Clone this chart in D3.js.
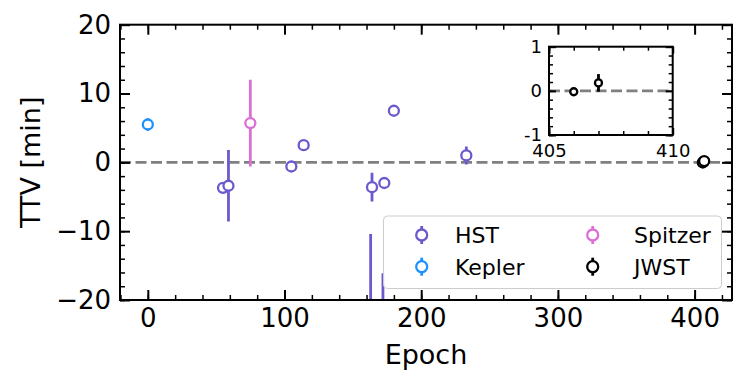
<!DOCTYPE html>
<html>
<head>
<meta charset="utf-8">
<script src="https://cdn.jsdelivr.net/npm/d3@7"></script>
<style>
  body { margin: 0; background: #fff; }
  svg text { font-family: 'DejaVu Sans', sans-serif; fill: #000; }
</style>
</head>
<body>
<div id="hook-ttv"></div>
<script>
'use strict';

// observations, epoch / TTV in minutes / 1-sigma error
var hstEpoch = [55, 59, 105, 114, 163, 164, 172, 173, 180, 233];
var hstTtv = [-3.7, -3.4, -0.6, 2.5, -32.0, -3.6, -35.0, -3.0, 7.5, 1.0];
var hstErr = [0.5, 5.2, 0.8, 0.5, 21.6, 2.1, 18.9, 0.7, 0.5, 1.3];

var keplerEpoch = [0];
var keplerTtv = [5.5];
var keplerErr = [0.9];

var spitzerEpoch = [75];
var spitzerTtv = [5.7];
var spitzerErr = [6.3];

var jwstEpoch = [406, 407];
var jwstTtv = [-0.02, 0.18];
var jwstErr = [0.04, 0.2];

var xTicks = [0, 100, 200, 300, 400];
var yTicks = [-20, -10, 0, 10, 20];
var insetXTicks = [405, 410];
var insetYTicks = [-1, 0, 1];

(function() {

var options = {
  width: 747,
  height: 386,
  left: 120,
  right: 732,
  top: 24.7,
  bottom: 300,
  xMin: -20.35,
  xMax: 427.35,
  r: 5,
  errWidth: 2.8
};

var series = [
  { name: 'HST', color: '#6a5acd', epoch: hstEpoch, ttv: hstTtv, err: hstErr },
  { name: 'Kepler', color: '#1e90ff', epoch: keplerEpoch, ttv: keplerTtv, err: keplerErr },
  { name: 'Spitzer', color: '#da70d6', epoch: spitzerEpoch, ttv: spitzerTtv, err: spitzerErr },
  { name: 'JWST', color: '#000000', epoch: jwstEpoch, ttv: jwstTtv, err: jwstErr }
];

function minus(v) {
  return String(v).replace('-', '\u2212');
}

function rows(s) {
  return s.epoch.map(function(e, i) {
    return { epoch: e, ttv: s.ttv[i], err: s.err[i], color: s.color };
  });
}

function ticks(g, axisFn, scale, values, size, fmt, fontSize, pad) {
  var a = axisFn(scale)
    .tickValues(values)
    .tickSize(-size)
    .tickSizeOuter(0)
    .tickPadding(pad || 8);
  if (fmt) a.tickFormat(fmt); else a.tickFormat('');
  g.call(a);
  g.select('.domain').remove();
  g.selectAll('line').style('stroke', '#000').style('stroke-width', size > 6 ? 2 : 1.5);
  g.selectAll('text').style('font-size', fontSize + 'px').style('font-family', "'DejaVu Sans', sans-serif");
}

function frameAxes(svg, x, y, box, maj, minX, minY, fmtX, fmtY, fontSize, majLen, minLen, padX, padY) {
  ticks(svg.append('g').attr('transform', 'translate(0,' + box.bottom + ')'), d3.axisBottom, x, maj.x, majLen, fmtX, fontSize, padX);
  ticks(svg.append('g').attr('transform', 'translate(0,' + box.bottom + ')'), d3.axisBottom, x, minX, minLen);
  ticks(svg.append('g').attr('transform', 'translate(0,' + box.top + ')'), d3.axisTop, x, maj.x, majLen);
  ticks(svg.append('g').attr('transform', 'translate(0,' + box.top + ')'), d3.axisTop, x, minX, minLen);
  ticks(svg.append('g').attr('transform', 'translate(' + box.left + ',0)'), d3.axisLeft, y, maj.y, majLen, fmtY, fontSize, padY);
  ticks(svg.append('g').attr('transform', 'translate(' + box.left + ',0)'), d3.axisLeft, y, minY, minLen);
  ticks(svg.append('g').attr('transform', 'translate(' + box.right + ',0)'), d3.axisRight, y, maj.y, majLen);
  ticks(svg.append('g').attr('transform', 'translate(' + box.right + ',0)'), d3.axisRight, y, minY, minLen);

  svg.append('rect')
    .attr('x', box.left)
    .attr('y', box.top)
    .attr('width', box.right - box.left)
    .attr('height', box.bottom - box.top)
    .style('fill', 'none')
    .style('stroke', '#000')
    .style('stroke-width', 2);
}

function drawPoints(g, x, y, data, r, lw) {
  var pts = g.selectAll('g.pt')
    .data(data)
    .enter()
    .append('g')
    .attr('class', 'pt');

  pts.append('line')
    .attr('x1', function(d) { return x(d.epoch); })
    .attr('x2', function(d) { return x(d.epoch); })
    .attr('y1', function(d) { return y(d.ttv - d.err); })
    .attr('y2', function(d) { return y(d.ttv + d.err); })
    .style('stroke', function(d) { return d.color; })
    .style('stroke-width', lw);

  pts.append('circle')
    .attr('cx', function(d) { return x(d.epoch); })
    .attr('cy', function(d) { return y(d.ttv); })
    .attr('r', r)
    .style('fill', '#fff')
    .style('stroke', function(d) { return d.color; })
    .style('stroke-width', 2.3);
}

function update(options) {

  var svg = d3.select('#hook-ttv')
    .append('svg')
    .attr('width', options.width)
    .attr('height', options.height);

  svg.append('rect')
    .attr('width', options.width)
    .attr('height', options.height)
    .style('fill', '#fff');

  var x = d3.scaleLinear()
    .domain([options.xMin, options.xMax])
    .range([options.left, options.right]);

  var y = d3.scaleLinear()
    .domain([-20, 20])
    .range([options.bottom, options.top]);

  svg.append('clipPath')
    .attr('id', 'clip-main')
    .append('rect')
    .attr('x', options.left)
    .attr('y', options.top)
    .attr('width', options.right - options.left)
    .attr('height', options.bottom - options.top);

  var plot = svg.append('g').attr('clip-path', 'url(#clip-main)');

  plot.append('line')
    .attr('x1', options.left)
    .attr('x2', options.right)
    .attr('y1', y(0))
    .attr('y2', y(0))
    .style('stroke', '#808080')
    .style('stroke-width', 2.8)
    .style('stroke-dasharray', '11,4.5');

  series.forEach(function(s) {
    drawPoints(plot.append('g'), x, y, rows(s), options.r, options.errWidth);
  });

  frameAxes(svg, x, y, options,
    { x: xTicks, y: yTicks },
    d3.range(-20, 428, 20),
    d3.range(-20, 21, 2),
    function(d) { return minus(d); },
    function(d) { return minus(d); },
    26, 10, 5, 9, 9);

  // axis labels
  svg.append('text')
    .attr('x', (options.left + options.right) / 2)
    .attr('y', 364)
    .attr('text-anchor', 'middle')
    .style('font-size', '27px')
    .text('Epoch');

  svg.append('text')
    .attr('transform', 'translate(40,' + (options.top + options.bottom) / 2 + ') rotate(-90)')
    .attr('text-anchor', 'middle')
    .style('font-size', '27px')
    .text('TTV [min]');

  // legend
  var leg = svg.append('g');
  leg.append('rect')
    .attr('x', 383.5)
    .attr('y', 216)
    .attr('width', 338)
    .attr('height', 72.5)
    .attr('rx', 4)
    .style('fill', '#fff')
    .style('fill-opacity', 0.8)
    .style('stroke', '#cccccc')
    .style('stroke-width', 1);

  var legPos = [
    { mx: 421.7, tx: 455, ty: 235 },
    { mx: 421.7, tx: 455, ty: 266.7 },
    { mx: 592.7, tx: 634, ty: 235 },
    { mx: 592.7, tx: 634, ty: 266.7 }
  ];

  series.forEach(function(s, i) {
    var p = legPos[i];
    leg.append('line')
      .attr('x1', p.mx).attr('x2', p.mx)
      .attr('y1', p.ty - 9).attr('y2', p.ty + 9)
      .style('stroke', s.color)
      .style('stroke-width', options.errWidth);
    leg.append('circle')
      .attr('cx', p.mx).attr('cy', p.ty)
      .attr('r', 5.5)
      .style('fill', '#fff')
      .style('stroke', s.color)
      .style('stroke-width', 2.3);
    leg.append('text')
      .attr('x', p.tx)
      .attr('y', p.ty)
      .attr('dy', '0.36em')
      .style('font-size', '22px')
      .text(s.name);
  });

  // inset zoom on JWST
  var inset = { left: 549, right: 672.7, top: 46.7, bottom: 135 };

  var ix = d3.scaleLinear().domain([405, 410]).range([inset.left, inset.right]);
  var iy = d3.scaleLinear().domain([-1, 1]).range([inset.bottom, inset.top]);

  var ig = svg.append('g');
  ig.append('rect')
    .attr('x', inset.left)
    .attr('y', inset.top)
    .attr('width', inset.right - inset.left)
    .attr('height', inset.bottom - inset.top)
    .style('fill', '#fff');

  ig.append('line')
    .attr('x1', inset.left)
    .attr('x2', inset.right)
    .attr('y1', iy(0))
    .attr('y2', iy(0))
    .style('stroke', '#808080')
    .style('stroke-width', 2.8)
    .style('stroke-dasharray', '11,4.5');

  drawPoints(ig.append('g'), ix, iy, rows(series[3]), 3.5, 2.8);

  frameAxes(ig, ix, iy, inset,
    { x: insetXTicks, y: insetYTicks },
    d3.range(405, 411, 1),
    d3.range(-1, 1.01, 0.2).map(function(v) { return Math.round(v * 10) / 10; }),
    function(d) { return d; },
    function(d) { return d; },
    18, 7, 4, 9, 7);
}

update(options);

}());
</script>
</body>
</html>
